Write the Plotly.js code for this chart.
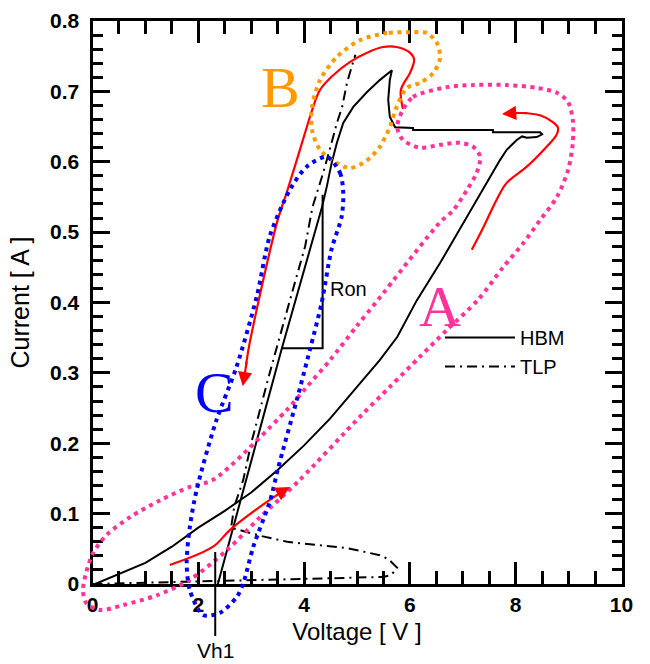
<!DOCTYPE html>
<html><head><meta charset="utf-8">
<script src="https://cdn.plot.ly/plotly-3.0.1.min.js"></script>
<style>html,body{margin:0;padding:0;background:#fff}</style>
</head><body><div id="chart" style="width:650px;height:664px"></div>
<script>
// ---- data (Voltage [V], Current [A]) ----
const hbmV = [0.05, 0.5, 1.0, 1.5, 2.0, 2.5, 3.0, 3.5, 4.0, 4.49, 4.99, 5.43, 5.76, 6.13, 6.57, 7.0, 7.4, 7.7, 7.83, 8.02, 8.12, 8.21, 8.4, 8.5, 8.46, 7.57, 7.57, 6.06, 6.06, 5.72, 5.62, 5.59, 5.62, 5.66, 5.43, 5.19, 4.93, 4.74, 4.62, 4.52, 4.43, 4.34, 3.58, 2.37];
const hbmI = [0.0, 0.014, 0.03, 0.053, 0.08, 0.104, 0.13, 0.162, 0.197, 0.235, 0.28, 0.318, 0.351, 0.403, 0.456, 0.512, 0.563, 0.602, 0.617, 0.631, 0.636, 0.634, 0.635, 0.639, 0.642, 0.642, 0.645, 0.645, 0.648, 0.649, 0.664, 0.688, 0.716, 0.73, 0.716, 0.699, 0.678, 0.655, 0.627, 0.598, 0.565, 0.536, 0.335, 0.0];

const tlpV = [0.0, 0.5, 1.0, 1.5, 2.0, 2.5, 3.0, 3.5, 4.0, 4.5, 5.0, 5.5, 5.65, 5.76, 5.6, 5.43, 4.81, 4.2, 3.68, 3.2, 2.79, 2.62, 2.68, 2.85, 3.0, 3.35, 3.72, 4.02, 4.16, 4.36, 4.52, 4.62, 4.72, 4.81, 4.9, 4.97];
const tlpI = [0.0, 0.001, 0.002, 0.003, 0.004, 0.005, 0.006, 0.007, 0.008, 0.009, 0.0095, 0.01, 0.013, 0.023, 0.035, 0.041, 0.051, 0.056, 0.06, 0.068, 0.077, 0.08, 0.11, 0.148, 0.2, 0.3, 0.4, 0.48, 0.536, 0.584, 0.627, 0.655, 0.678, 0.712, 0.735, 0.752];

// Ron construction triangle
const ronV = [3.58, 4.35, 4.35];
const ronI = [0.335, 0.335, 0.553];
// Vh1 (holding voltage) marker
const vh1 = 2.32;
const vh1I = [-0.072, 0.045];

// red arrows (paths)
const redLowV = [1.46, 2.28, 2.6, 3.17, 3.6];
const redLowI = [0.027, 0.053, 0.077, 0.11, 0.132];
const redRightV = [7.17, 7.39, 7.64, 7.83, 8.21, 8.58, 8.77, 8.8, 8.71, 8.46, 8.21, 7.9];
const redRightI = [0.475, 0.507, 0.546, 0.57, 0.593, 0.621, 0.638, 0.648, 0.656, 0.666, 0.669, 0.669];
const redBigV = [5.87, 5.83, 6.0, 6.08, 6.0, 5.75, 5.49, 5.19, 4.87, 4.55, 4.3, 4.15, 4.05, 3.86, 3.67, 3.5, 3.27, 3.11, 2.96, 2.9];
const redBigI = [0.675, 0.702, 0.726, 0.745, 0.755, 0.763, 0.763, 0.755, 0.742, 0.723, 0.702, 0.673, 0.649, 0.602, 0.556, 0.517, 0.446, 0.392, 0.338, 0.31];

// dotted regions A, B, C
const regAV = [5.85, 6.06, 6.7, 7.2, 7.83, 8.4, 8.78, 8.99, 9.08, 9.08, 8.99, 8.78, 8.46, 8.14, 7.76, 7.29, 6.70, 6.19, 5.62, 5.06, 3.92, 3.17, 2.54, 1.84, 1.22, 0.58, 0.14, -0.12, -0.18, -0.12, 0.01, 0.27, 0.71, 1.28, 1.84, 2.28, 3.67, 4.05, 4.49, 4.99, 5.40, 6.57, 6.82, 7.08, 7.26, 7.33, 7.2, 6.95, 6.57, 6.19, 5.87, 5.76, 5.85];
const regAI = [0.671, 0.692, 0.706, 0.709, 0.709, 0.705, 0.698, 0.685, 0.659, 0.627, 0.588, 0.55, 0.517, 0.484, 0.45, 0.404, 0.361, 0.323, 0.28, 0.238, 0.148, 0.095, 0.048, 0.006, -0.016, -0.030, -0.037, -0.027, -0.009, 0.016, 0.044, 0.07, 0.095, 0.119, 0.138, 0.148, 0.247, 0.28, 0.318, 0.366, 0.404, 0.514, 0.531, 0.56, 0.584, 0.607, 0.621, 0.627, 0.624, 0.62, 0.631, 0.649, 0.671];
const regBV = [6.0, 5.57, 5.06, 4.62, 4.3, 4.15, 4.15, 4.3, 4.62, 4.87, 5.19, 5.43, 5.62, 5.75, 5.94, 6.19, 6.44, 6.57, 6.51, 6.32, 6.0];
const regBI = [0.784, 0.783, 0.773, 0.749, 0.716, 0.678, 0.645, 0.617, 0.598, 0.591, 0.602, 0.621, 0.649, 0.678, 0.705, 0.712, 0.726, 0.747, 0.769, 0.783, 0.784];
const regCV = [4.43, 4.68, 4.74, 4.71, 4.52, 4.33, 4.11, 3.86, 3.51, 3.36, 3.04, 2.85, 2.73, 2.41, 2.09, 1.84, 1.78, 1.84, 1.97, 2.33, 2.72, 3.11, 3.35, 3.73, 4.05, 4.43];
const regCI = [0.607, 0.584, 0.556, 0.522, 0.476, 0.399, 0.333, 0.261, 0.165, 0.119, 0.053, 0.001, -0.018, -0.041, -0.044, -0.009, 0.03, 0.081, 0.134, 0.23, 0.308, 0.41, 0.494, 0.56, 0.593, 0.607];

const xTickVals = [0, 2, 4, 6, 8, 10];
const xTickText = ['0', '2', '4', '6', '8', '10'];
const yTickVals = [0, 0.1, 0.2, 0.3, 0.4, 0.5, 0.6, 0.7, 0.8];
const yTickText = ['0', '0.1', '0.2', '0.3', '0.4', '0.5', '0.6', '0.7', '0.8'];

// ---- geometry ----
const W = 650, H = 664;
const L = 92.5, R = 621.5, T = 21, B = 584;
const xr = [0, 10], yr = [0, 0.8];
const pxX = (R - L) / (xr[1] - xr[0]);
const pxY = (B - T) / (yr[1] - yr[0]);
const xFull = [xr[0] - L / pxX, xr[1] + (W - R) / pxX];
const yFull = [yr[0] - (H - B) / pxY, yr[1] + T / pxY];

const PINK = '#FF3399', ORANGE = '#FF9900', BLUE = '#0000FF', RED = '#FF0000';
const FONT = 'Liberation Sans, Arial, sans-serif';
const SERIF = 'Liberation Serif, Times New Roman, serif';
const TLP_DASH = '10px,5px,2px,5px';
const dotted = (c) => ({color: c, width: 4, dash: '4px,4.5px', shape: 'spline', smoothing: 0.8});
const bold = (arr, suffix) => arr.map(t => '<b>' + t + '</b>' + (suffix || ''));

function build(o) {
  const ov = o.overlay ? {xaxis: 'x2', yaxis: 'y2'} : {};
  const data = [
    {x: hbmV, y: hbmI, name: 'HBM', mode: 'lines', showlegend: !!o.legend, line: {color: '#000', width: 2}},
    {x: tlpV, y: tlpI, name: 'TLP', mode: 'lines', showlegend: !!o.legend, line: {color: '#000', width: 2, dash: TLP_DASH}}
  ];
  if (o.extra) {
    data.push(
      {x: ronV, y: ronI, mode: 'lines', showlegend: false, line: {color: '#000', width: 2}},
      {x: redLowV, y: redLowI, mode: 'lines', showlegend: false, line: {color: RED, width: 2.2, shape: 'spline'}},
      {x: redRightV, y: redRightI, mode: 'lines', showlegend: false, line: {color: RED, width: 2.2, shape: 'spline'}},
      {x: redBigV, y: redBigI, mode: 'lines', showlegend: false, line: {color: RED, width: 2.2, shape: 'spline'}},
      Object.assign({x: regAV, y: regAI, mode: 'lines', showlegend: false, line: dotted(PINK)}, ov),
      Object.assign({x: regBV, y: regBI, mode: 'lines', showlegend: false, line: dotted(ORANGE)}, ov),
      Object.assign({x: regCV, y: regCI, mode: 'lines', showlegend: false, line: dotted(BLUE)}, ov)
    );
    if (!o.shapes) {
      data.push(Object.assign({x: [vh1, vh1], y: vh1I, mode: 'lines', showlegend: false, line: {color: '#000', width: 2}}, ov));
    }
  }

  const annotations = [];
  const shapes = [];
  if (o.texts) {
    annotations.push(
      {x: 3.56, y: 0.706, xref: 'x', yref: 'y', text: 'B', showarrow: false, font: {family: SERIF, size: 58, color: ORANGE}},
      {x: 6.57, y: 0.395, xref: 'x', yref: 'y', text: 'A', showarrow: false, font: {family: SERIF, size: 58, color: PINK}},
      {x: 2.3, y: 0.272, xref: 'x', yref: 'y', text: 'C', showarrow: false, font: {family: SERIF, size: 58, color: BLUE}},
      {x: 4.45, y: 0.419, xref: 'x', yref: 'y', xanchor: 'left', text: 'Ron', showarrow: false, font: {family: FONT, size: 20, color: '#000'}},
      {x: vh1, y: (H - 650) / H, xref: 'x', yref: 'paper', xanchor: 'center', yanchor: 'middle', text: 'Vh1', showarrow: false, font: {family: FONT, size: 21, color: '#000'}}
    );
  }
  if (o.arrows) {
    const arrow = (x, y, ax, ay) => ({x, y, ax, ay, xref: 'x', yref: 'y', axref: 'x', ayref: 'y', text: '',
      showarrow: true, arrowhead: 2, arrowsize: 1.3, arrowwidth: 2.2, arrowcolor: RED, standoff: 0});
    annotations.push(arrow(3.73, 0.138, 3.5, 0.128), arrow(7.74, 0.668, 7.95, 0.669), arrow(2.84, 0.281, 2.92, 0.318));
  }
  if (o.shapes && o.extra) {
    shapes.push({type: 'line', xref: 'x', yref: 'paper', x0: vh1, x1: vh1, y0: (H - 636) / H, y1: (H - 552) / H, line: {color: '#000', width: 2}});
  }

  const xaxis = {
    showgrid: false, zeroline: false, showline: true, linecolor: '#000', linewidth: 3,
    mirror: 'ticks', ticks: 'inside', tickcolor: '#000', tickwidth: 2.5,
    domain: [L / W, R / W], range: xr, tickvals: xTickVals, ticklen: 22,
    minor: {dtick: 0.5, ticklen: 13, tickwidth: 2.5, tickcolor: '#000', ticks: 'inside'},
    anchor: 'y'
  };
  const yaxis = {
    showgrid: false, zeroline: false, showline: true, linecolor: '#000', linewidth: 3,
    mirror: 'ticks', ticks: 'inside', tickcolor: '#000', tickwidth: 2.5,
    domain: [(H - B) / H, (H - T) / H], range: yr, tickvals: yTickVals, ticklen: 17,
    minor: {dtick: 0.02, ticklen: 10, tickwidth: 2.5, tickcolor: '#000', ticks: 'inside'},
    anchor: 'x'
  };
  if (o.bold) {
    xaxis.ticktext = bold(xTickText);
    yaxis.ticktext = o.standoff ? bold(yTickText) : bold(yTickText, '&nbsp;');
  }
  if (o.standoff) yaxis.ticklabelstandoff = 6;
  if (o.tickfont) {
    xaxis.tickfont = {family: FONT, size: 21, color: '#000'};
    yaxis.tickfont = {family: FONT, size: 21, color: '#000'};
  }
  if (o.titles) {
    xaxis.title = {text: 'Voltage [ V ]', standoff: 8, font: {family: FONT, size: 24, color: '#000'}};
    yaxis.title = {text: 'Current [ A ]', standoff: 14, font: {family: FONT, size: 25, color: '#000'}};
  } else if (o.texts) {
    annotations.push(
      {x: 357 / W, y: (H - 633) / H, xref: 'paper', yref: 'paper', xanchor: 'center', yanchor: 'middle', showarrow: false,
       text: 'Voltage [ V ]', font: {family: FONT, size: 24, color: '#000'}},
      {x: 23 / W, y: (H - 300) / H, xref: 'paper', yref: 'paper', xanchor: 'center', yanchor: 'middle', showarrow: false,
       textangle: -90, text: 'Current [ A ]', font: {family: FONT, size: 25, color: '#000'}}
    );
  }
  if (!o.legend && o.texts) {
    if (o.shapes) {
      shapes.push(
        {type: 'line', xref: 'paper', yref: 'paper', x0: 446 / W, x1: 515 / W, y0: (H - 335) / H, y1: (H - 335) / H, line: {color: '#000', width: 2}},
        {type: 'line', xref: 'paper', yref: 'paper', x0: 446 / W, x1: 515 / W, y0: (H - 367) / H, y1: (H - 367) / H, line: {color: '#000', width: 2, dash: TLP_DASH}}
      );
    }
    annotations.push(
      {x: 524 / W, y: (H - 335) / H, xref: 'paper', yref: 'paper', xanchor: 'left', yanchor: 'middle', showarrow: false, text: 'HBM', font: {family: FONT, size: 20, color: '#000'}},
      {x: 524 / W, y: (H - 367) / H, xref: 'paper', yref: 'paper', xanchor: 'left', yanchor: 'middle', showarrow: false, text: 'TLP', font: {family: FONT, size: 20, color: '#000'}}
    );
  }

  const layout = {
    width: W, height: H,
    margin: {l: 0, r: 0, t: 0, b: 0},
    paper_bgcolor: '#fff', plot_bgcolor: 'rgba(0,0,0,0)',
    showlegend: !!o.legend,
    xaxis: xaxis, yaxis: yaxis,
    shapes: shapes, annotations: annotations
  };
  if (o.legend) {
    layout.legend = {x: 440 / W, y: 1 - 318 / H, xanchor: 'left', yanchor: 'top', bgcolor: 'rgba(0,0,0,0)',
                     itemwidth: 70, font: {family: FONT, size: 20, color: '#000'}};
  }
  if (o.layoutFont) layout.font = {family: FONT, size: 21, color: '#000'};
  if (o.overlay && o.extra) {
    layout.xaxis2 = {domain: [0, 1], range: xFull, visible: false, anchor: 'y2'};
    layout.yaxis2 = {domain: [0, 1], range: yFull, visible: false, anchor: 'x2'};
  }
  return {data, layout};
}

// Render a variant off-screen and look at the pixels where frame ticks must be.
async function ticksVisible(o) {
  const f = build(o);
  const url = await Plotly.toImage({data: f.data, layout: f.layout, config: {}}, {format: 'png', width: W, height: H, scale: 1});
  const img = new Image();
  await new Promise((res, rej) => { img.onload = res; img.onerror = rej; img.src = url; });
  const c = document.createElement('canvas'); c.width = W; c.height = H;
  const ctx = c.getContext('2d');
  ctx.fillStyle = '#fff'; ctx.fillRect(0, 0, W, H);
  ctx.drawImage(img, 0, 0);
  const darkIn = (x0, y0, x1, y1) => {
    const d = ctx.getImageData(x0, y0, x1 - x0, y1 - y0).data;
    for (let i = 0; i < d.length; i += 4) { if (d[i] + d[i + 1] + d[i + 2] < 300) return true; }
    return false;
  };
  const xMinor = Math.round(L + 9.5 * pxX), xMajor = Math.round(L + 8 * pxX), yMinor = Math.round(B - 0.78 * pxY);
  let hits = 0;
  if (darkIn(xMinor - 3, T + 5, xMinor + 4, T + 10)) hits++;   // top minor tick at 9.5 V
  if (darkIn(xMajor - 3, T + 12, xMajor + 4, T + 18)) hits++;  // top major tick at 8 V
  if (darkIn(Math.round(L) + 4, yMinor - 3, Math.round(L) + 8, yMinor + 4)) hits++; // left minor tick at 0.78 A
  return hits >= 2;
}

const A = {overlay: true, tickfont: true, layoutFont: false, titles: true, legend: true, arrows: true, texts: true, shapes: true, bold: true, standoff: true, extra: true};
const w = (p) => Object.assign({}, A, p);
const Hh = w({tickfont: false, layoutFont: true, titles: false, legend: false, arrows: false, shapes: false, standoff: false});
const variants = [
  A,
  w({tickfont: false, layoutFont: true}),
  w({titles: false}),
  w({legend: false}),
  w({arrows: false}),
  w({shapes: false}),
  w({standoff: false}),
  w({bold: false}),
  w({tickfont: false, layoutFont: true, titles: false}),
  Hh,
  Object.assign({}, Hh, {overlay: false}),
  Object.assign({}, Hh, {overlay: false, texts: false, bold: false, layoutFont: false}),
  Object.assign({}, Hh, {overlay: false, texts: false, bold: false, layoutFont: false, extra: false})
];
const config = {displayModeBar: false};

(async function() {
  const gd = document.getElementById('chart');
  const f0 = build(A);
  await Plotly.newPlot(gd, f0.data, f0.layout, config);
  for (let i = 0; i < variants.length; i++) {
    let ok = null;
    try { ok = await ticksVisible(variants[i]); } catch (e) { ok = null; }
    if (ok === null) { if (i === 0) return; continue; }
    if (ok) {
      if (i > 0) {
        const f = build(variants[i]);
        Plotly.purge(gd);
        await Plotly.newPlot(gd, f.data, f.layout, config);
      }
      return;
    }
  }
})();
</script></body></html>
